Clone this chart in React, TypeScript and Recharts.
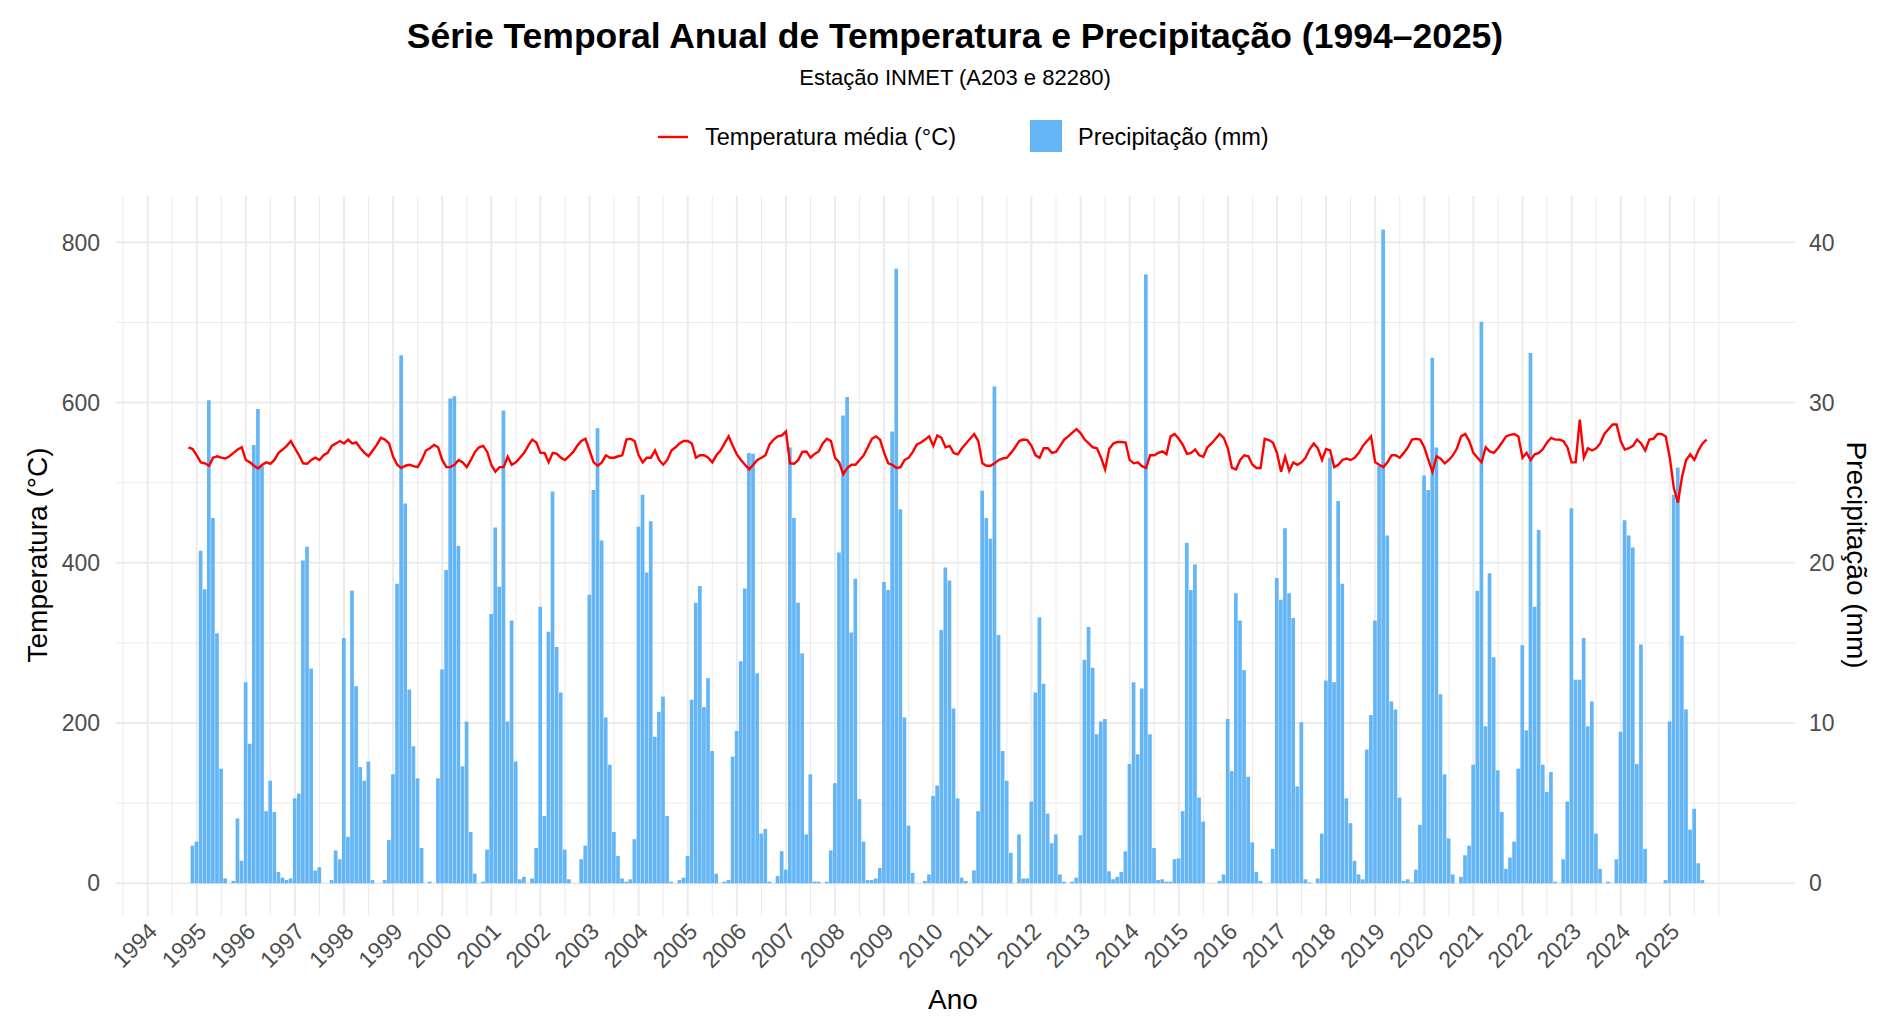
import React from 'react';
import { ComposedChart, Bar, Line, XAxis, YAxis, CartesianGrid } from 'recharts';

// ---------- Data (monthly, Jan..Dec) ----------
const YEARS = [1994, 1995, 1996, 1997, 1998, 1999, 2000, 2001, 2002, 2003, 2004, 2005, 2006, 2007, 2008, 2009, 2010, 2011, 2012, 2013, 2014, 2015, 2016, 2017, 2018, 2019, 2020, 2021, 2022, 2023, 2024, 2025];

// Precipitation (mm) — drawn against the left axis
const p1994 = [null, null, null, null, null, null, null, null, null, null, null, 47];
const p1995 = [52, 415, 367, 603, 456, 312, 143, 6, 0, 3, 81, 28];
const p1996 = [251, 174, 547, 592, 521, 90, 128, 89, 14, 7, 4, 6];
const p1997 = [106, 112, 403, 420, 268, 16, 20, 0, 0, 4, 41, 30];
const p1998 = [306, 58, 365, 246, 145, 128, 152, 4, 0, 0, 4, 54];
const p1999 = [136, 374, 659, 474, 242, 171, 131, 44, 0, 2, 0, 131];
const p2000 = [267, 391, 605, 608, 421, 146, 202, 64, 12, 0, 2, 42];
const p2001 = [336, 444, 370, 590, 202, 328, 152, 5, 8, 0, 6, 44];
const p2002 = [345, 84, 314, 489, 295, 238, 42, 5, 0, 0, 30, 47];
const p2003 = [360, 491, 568, 428, 207, 148, 64, 34, 6, 2, 5, 55];
const p2004 = [445, 485, 388, 452, 183, 214, 233, 84, 2, 0, 4, 7];
const p2005 = [34, 229, 350, 371, 220, 256, 165, 12, 0, 2, 4, 158];
const p2006 = [190, 277, 368, 537, 536, 262, 62, 68, 2, 0, 9, 40];
const p2007 = [17, 544, 456, 350, 287, 61, 136, 2, 2, 0, 2, 41];
const p2008 = [125, 413, 584, 607, 313, 380, 105, 52, 4, 4, 6, 19];
const p2009 = [376, 366, 564, 767, 467, 207, 72, 13, 0, 0, 3, 11];
const p2010 = [109, 122, 316, 394, 378, 218, 106, 7, 3, 0, 16, 90];
const p2011 = [490, 456, 430, 620, 310, 165, 128, 38, 0, 61, 6, 6];
const p2012 = [102, 238, 332, 249, 87, 50, 61, 11, 2, 0, 2, 7];
const p2013 = [60, 279, 320, 269, 186, 202, 205, 15, 5, 8, 14, 40];
const p2014 = [149, 251, 161, 243, 760, 186, 44, 4, 5, 2, 2, 30];
const p2015 = [31, 90, 425, 366, 398, 107, 77, 0, 0, 0, 3, 11];
const p2016 = [205, 140, 362, 328, 266, 133, 51, 14, 3, 0, 0, 43];
const p2017 = [381, 354, 443, 362, 331, 121, 201, 5, 1, 0, 6, 62];
const p2018 = [253, 531, 251, 477, 374, 106, 75, 28, 11, 5, 167, 210];
const p2019 = [328, 521, 816, 434, 227, 217, 107, 3, 5, 1, 17, 73];
const p2020 = [509, 491, 656, 544, 236, 136, 56, 11, 0, 8, 35, 47];
const p2021 = [148, 365, 701, 196, 387, 282, 141, 89, 18, 32, 52, 143];
const p2022 = [297, 191, 662, 345, 441, 148, 114, 139, 2, 0, 30, 102];
const p2023 = [468, 254, 254, 306, 196, 227, 62, 18, 0, 2, 0, 30];
const p2024 = [189, 453, 434, 419, 149, 298, 43, 0, 0, 0, 0, 4];
const p2025 = [202, 485, 519, 309, 217, 67, 93, 25, 4, null, null, null];

// Mean temperature (°C) — drawn against the right axis
const t1994 = [null, null, null, null, null, null, null, null, null, null, 27.21, 27.1];
const t1995 = [26.71, 26.27, 26.21, 26.06, 26.56, 26.65, 26.56, 26.51, 26.65, 26.86, 27.07, 27.21];
const t1996 = [26.42, 26.27, 26.06, 25.89, 26.12, 26.27, 26.18, 26.42, 26.86, 27.07, 27.3, 27.6];
const t1997 = [27.15, 26.71, 26.21, 26.18, 26.42, 26.56, 26.42, 26.71, 26.86, 27.3, 27.45, 27.6];
const t1998 = [27.45, 27.69, 27.45, 27.51, 27.15, 26.86, 26.65, 27.01, 27.36, 27.8, 27.69, 27.45];
const t1999 = [26.62, 26.12, 25.92, 26.06, 26.12, 26.03, 25.97, 26.42, 27.01, 27.15, 27.36, 27.21];
const t2000 = [26.42, 25.97, 25.97, 26.12, 26.42, 26.27, 25.97, 26.42, 26.92, 27.21, 27.3, 26.92];
const t2001 = [26.12, 25.68, 25.97, 25.97, 26.62, 26.12, 26.27, 26.56, 26.86, 27.3, 27.69, 27.51];
const t2002 = [26.86, 26.86, 26.27, 26.86, 26.8, 26.56, 26.42, 26.65, 26.92, 27.3, 27.6, 27.74];
const t2003 = [27.01, 26.27, 26.06, 26.27, 26.71, 26.56, 26.56, 26.65, 26.71, 27.69, 27.74, 27.6];
const t2004 = [26.71, 26.27, 26.56, 26.56, 27.01, 26.42, 26.12, 26.42, 27.01, 27.21, 27.45, 27.6];
const t2005 = [27.6, 27.45, 26.56, 26.71, 26.71, 26.56, 26.27, 26.71, 27.01, 27.45, 27.89, 27.3];
const t2006 = [26.77, 26.42, 26.12, 25.83, 26.12, 26.42, 26.56, 26.71, 27.39, 27.69, 27.89, 27.95];
const t2007 = [28.19, 26.21, 26.18, 26.42, 26.92, 26.95, 26.56, 26.8, 26.95, 27.45, 27.74, 27.6];
const t2008 = [26.56, 26.27, 25.53, 25.92, 26.12, 26.12, 26.42, 26.71, 27.21, 27.74, 27.89, 27.69];
const t2009 = [26.86, 26.21, 26.12, 25.92, 25.97, 26.42, 26.56, 26.92, 27.39, 27.51, 27.69, 27.89];
const t2010 = [27.3, 27.95, 27.8, 27.21, 27.3, 26.86, 26.77, 27.15, 27.45, 27.74, 28.04, 27.6];
const t2011 = [26.21, 26.06, 26.06, 26.21, 26.42, 26.51, 26.56, 26.86, 27.21, 27.6, 27.69, 27.66];
const t2012 = [27.3, 26.71, 26.56, 27.15, 27.15, 26.86, 26.92, 27.3, 27.69, 27.89, 28.13, 28.34];
const t2013 = [28.1, 27.69, 27.45, 27.21, 27.15, 26.56, 25.83, 27.1, 27.45, 27.54, 27.54, 27.51];
const t2014 = [26.42, 26.21, 26.27, 26.03, 25.92, 26.71, 26.71, 26.86, 26.95, 26.77, 27.89, 28.04];
const t2015 = [27.74, 27.36, 26.8, 26.86, 27.07, 26.71, 26.62, 27.21, 27.45, 27.74, 28.04, 27.8];
const t2016 = [27.15, 25.92, 25.83, 26.42, 26.71, 26.65, 26.12, 25.92, 25.92, 27.74, 27.66, 27.51];
const t2017 = [26.86, 25.68, 26.62, 25.74, 26.27, 26.12, 26.27, 26.56, 27.1, 27.45, 27.15, 26.42];
const t2018 = [27.1, 27.01, 25.97, 26.12, 26.42, 26.51, 26.42, 26.56, 26.86, 27.3, 27.6, 27.89];
const t2019 = [26.27, 26.12, 25.97, 26.27, 26.71, 26.71, 26.56, 26.86, 27.21, 27.69, 27.74, 27.69];
const t2020 = [27.21, 26.42, 25.68, 26.65, 26.5, 26.21, 26.42, 26.71, 27.15, 27.89, 28.04, 27.6];
const t2021 = [26.86, 26.56, 26.27, 27.21, 26.95, 26.86, 27.15, 27.51, 27.89, 27.98, 28.04, 27.89];
const t2022 = [26.56, 26.86, 26.42, 26.77, 26.86, 27.1, 27.51, 27.8, 27.69, 27.69, 27.6, 27.2];
const t2023 = [26.27, 26.27, 28.93, 26.56, 27.15, 27.01, 27.15, 27.45, 28.04, 28.34, 28.63, 28.63];
const t2024 = [27.6, 27.07, 27.15, 27.3, 27.69, 27.45, 27.01, 27.69, 27.74, 28.04, 28.04, 27.89];
const t2025 = [26.56, 24.65, 23.76, 25.38, 26.42, 26.77, 26.42, 27.01, 27.45, 27.69, null, null];

const PRECIP = [p1994, p1995, p1996, p1997, p1998, p1999, p2000, p2001, p2002, p2003, p2004, p2005, p2006, p2007, p2008, p2009, p2010, p2011, p2012, p2013, p2014, p2015, p2016, p2017, p2018, p2019, p2020, p2021, p2022, p2023, p2024, p2025];
const TEMP = [t1994, t1995, t1996, t1997, t1998, t1999, t2000, t2001, t2002, t2003, t2004, t2005, t2006, t2007, t2008, t2009, t2010, t2011, t2012, t2013, t2014, t2015, t2016, t2017, t2018, t2019, t2020, t2021, t2022, t2023, t2024, t2025];

// Axis ticks / grid values
const X_TICKS = YEARS;
const X_MAJOR_GRID = YEARS;
const X_MINOR_GRID = [1993.5, ...YEARS.map((y) => y + 0.5), 2026];
const Y_LEFT_TICKS = [0, 200, 400, 600, 800];
const Y_LEFT_MINOR = [100, 300, 500, 700];
const Y_RIGHT_TICKS = [0, 10, 20, 30, 40];

const rows: { t: number; precip: number | null; temp: number | null }[] = [];
YEARS.forEach((yr, i) => {
  for (let m = 0; m < 12; m++) {
    const p = PRECIP[i][m];
    const tc = TEMP[i][m];
    if (p === null && tc === null) continue;
    rows.push({ t: yr + m / 12, precip: p, temp: tc });
  }
});

const FONT = '"Liberation Sans", Arial, Helvetica, sans-serif';
const TICK_COLOR = '#4D4D4D';
const BAR_COLOR = '#64B5F6';
const LINE_COLOR = '#FF0000';

const YearTick = (props: any) => {
  const { x, y, payload } = props;
  return (
    <text
      x={0}
      y={0}
      transform={`translate(${x + 11},${y + 17}) rotate(-45)`}
      textAnchor="end"
      fill={TICK_COLOR}
      fontSize={23}
      fontFamily={FONT}
    >
      {payload.value}
    </text>
  );
};

const abs = (style: React.CSSProperties): React.CSSProperties => ({
  position: 'absolute',
  whiteSpace: 'nowrap',
  fontFamily: FONT,
  ...style,
});

export default function App() {
  return (
    <div style={{ position: 'absolute', left: 0, top: 0, width: 1883, height: 1024, background: '#fff', overflow: 'hidden' }}>
      <ComposedChart
        width={1883}
        height={1024}
        data={rows}
        margin={{ top: 196, right: 0, bottom: 0, left: 0 }}
      >
        <CartesianGrid
          xAxisId="x"
          yAxisId="left"
          verticalValues={X_MINOR_GRID}
          horizontalValues={Y_LEFT_MINOR}
          stroke="#EBEBEB"
          strokeWidth={1}
        />
        <CartesianGrid
          xAxisId="x"
          yAxisId="left"
          verticalValues={X_MAJOR_GRID}
          horizontalValues={Y_LEFT_TICKS}
          stroke="#EBEBEB"
          strokeWidth={2}
        />
        <XAxis
          xAxisId="x"
          dataKey="t"
          type="number"
          domain={[1993.356, 2027.55]}
          allowDataOverflow
          ticks={X_TICKS}
          interval={0}
          height={108}
          tickLine={false}
          axisLine={false}
          tickSize={0}
          tickMargin={0}
          tick={<YearTick />}
        />
        <YAxis
          yAxisId="left"
          orientation="left"
          width={116}
          domain={[-40.85, 857.85]}
          allowDataOverflow
          ticks={Y_LEFT_TICKS}
          interval={0}
          tickLine={false}
          axisLine={false}
          tickSize={6}
          tickMargin={10}
          tick={{ fill: TICK_COLOR, fontSize: 23, fontFamily: FONT }}
        />
        <YAxis
          yAxisId="right"
          orientation="right"
          width={88}
          domain={[-2.0425, 42.8925]}
          allowDataOverflow
          ticks={Y_RIGHT_TICKS}
          interval={0}
          tickLine={false}
          axisLine={false}
          tickSize={6}
          tickMargin={8}
          tick={{ fill: TICK_COLOR, fontSize: 23, fontFamily: FONT }}
        />
        <Bar
          xAxisId="x"
          yAxisId="left"
          dataKey="precip"
          fill={BAR_COLOR}
          barSize={3.7}
          isAnimationActive={false}
        />
        <Line
          xAxisId="x"
          yAxisId="right"
          dataKey="temp"
          type="linear"
          stroke={LINE_COLOR}
          strokeWidth={2.4}
          dot={false}
          activeDot={false}
          connectNulls
          isAnimationActive={false}
        />
      </ComposedChart>

      {/* Title & subtitle */}
      <div style={abs({ left: 955, top: 36, transform: 'translate(-50%,-50%)', fontSize: 35.5, fontWeight: 'bold', color: '#000' })}>
        Série Temporal Anual de Temperatura e Precipitação (1994–2025)
      </div>
      <div style={abs({ left: 955, top: 78, transform: 'translate(-50%,-50%)', fontSize: 22, color: '#000' })}>
        Estação INMET (A203 e 82280)
      </div>

      {/* Legend */}
      <svg style={{ position: 'absolute', left: 656, top: 120 }} width={34} height={34}>
        <line x1={2} y1={17} x2={32} y2={17} stroke={LINE_COLOR} strokeWidth={2.4} />
      </svg>
      <div style={abs({ left: 705, top: 137, transform: 'translateY(-50%)', fontSize: 23.5, color: '#000' })}>
        Temperatura média (°C)
      </div>
      <div style={{ position: 'absolute', left: 1030, top: 120, width: 32, height: 32, background: BAR_COLOR }} />
      <div style={abs({ left: 1078, top: 137, transform: 'translateY(-50%)', fontSize: 23.5, color: '#000' })}>
        Precipitação (mm)
      </div>

      {/* Axis titles */}
      <div style={abs({ left: 38, top: 555, transform: 'translate(-50%,-50%) rotate(-90deg)', fontSize: 28, color: '#000' })}>
        Temperatura (°C)
      </div>
      <div style={abs({ left: 1856, top: 555, transform: 'translate(-50%,-50%) rotate(90deg)', fontSize: 28, color: '#000' })}>
        Precipitação (mm)
      </div>
      <div style={abs({ left: 953, top: 1000, transform: 'translate(-50%,-50%)', fontSize: 28, color: '#000' })}>
        Ano
      </div>
    </div>
  );
}
